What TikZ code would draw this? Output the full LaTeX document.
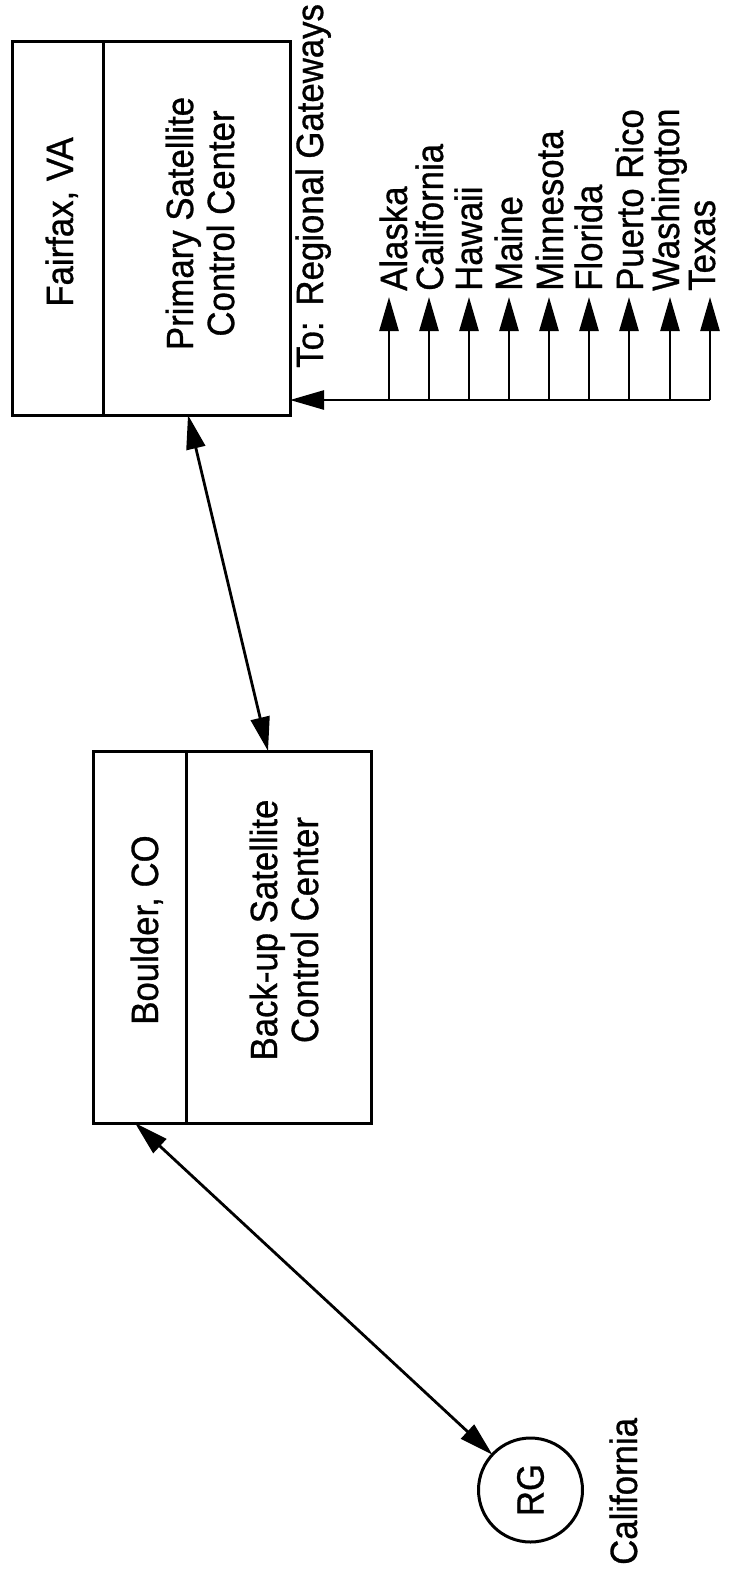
\documentclass[tikz,border=0pt]{standalone}
\usepackage{fontspec}
\setmainfont{Liberation Sans}[FakeStretch=0.915,FakeBold=0.8]
\usetikzlibrary{arrows.meta,calc}
\begin{document}
\begin{tikzpicture}[x=1pt,y=-1pt,
  box/.style={draw, line width=3pt, inner sep=0pt, outer sep=0pt},
  lbl/.style={rotate=90, inner sep=0pt, font=\fontsize{38}{41}\selectfont},
  circ/.style={draw, circle, line width=3pt, minimum size=104pt, inner sep=0pt, outer sep=0pt},
  con/.style={line width=2.6pt, -{Triangle[length=34pt,width=19pt]}},
  bicon/.style={line width=2.8pt, {Triangle[length=34pt,width=19pt]}-{Triangle[length=34pt,width=19pt]}},
]
\useasboundingbox (0,0) rectangle (730,1577);

% Primary box
\node[box, minimum width=91pt, minimum height=374pt] (fx) at (57.5,228) {};
\node[box, minimum width=187pt, minimum height=374pt] (pri) at (196.5,228) {};
\node[lbl, anchor=base] (fxt) at (73,222) {Fairfax, VA};
\node[lbl, align=center] (prit) at (200,223.5) {Primary Satellite\\Control Center};

% Back-up box
\node[box, minimum width=93pt, minimum height=372pt] (bld) at (139.5,937) {};
\node[box, minimum width=185pt, minimum height=372pt] (bck) at (278.5,937) {};
\node[lbl, anchor=base] (bldt) at (158,930) {Boulder, CO};
\node[lbl, align=center] (bckt) at (284,930) {Back-up Satellite\\Control Center};

% Regional gateway
\node[circ, lbl] (rg) at (530.5,1490) {RG};
\node[lbl, anchor=base west] (cal) at (637,1565) {California};

% To: label
\node[lbl, anchor=base west] (to) at (323,368) {To:\hspace{0.08em} Regional Gateways};

% gateway arrows
\foreach \ax/\lx/\st [count=\i] in {389/407/Alaska, 429/443/California, 469/482/Hawaii, 509/522/Maine, 549/563/Minnesota, 589/602/Florida, 629/643/Puerto Rico, 670/679/Washington, 710/715/Texas} {
  \coordinate (b\i) at (\ax,400);
  \coordinate (t\i) at (\ax,297);
  \node[lbl, anchor=base west] (s\i) at (\lx,291) {\st};
  \draw[con] (b\i) -- (t\i);
}
\draw[con] (b9) -- ([yshift=15pt]pri.south east);

% links
\draw[bicon] ([xshift=85pt]pri.south west) -- ([xshift=82pt]bck.north west);
\draw[bicon] ([xshift=42pt]bld.south west) -- (rg);
\end{tikzpicture}
\end{document}
